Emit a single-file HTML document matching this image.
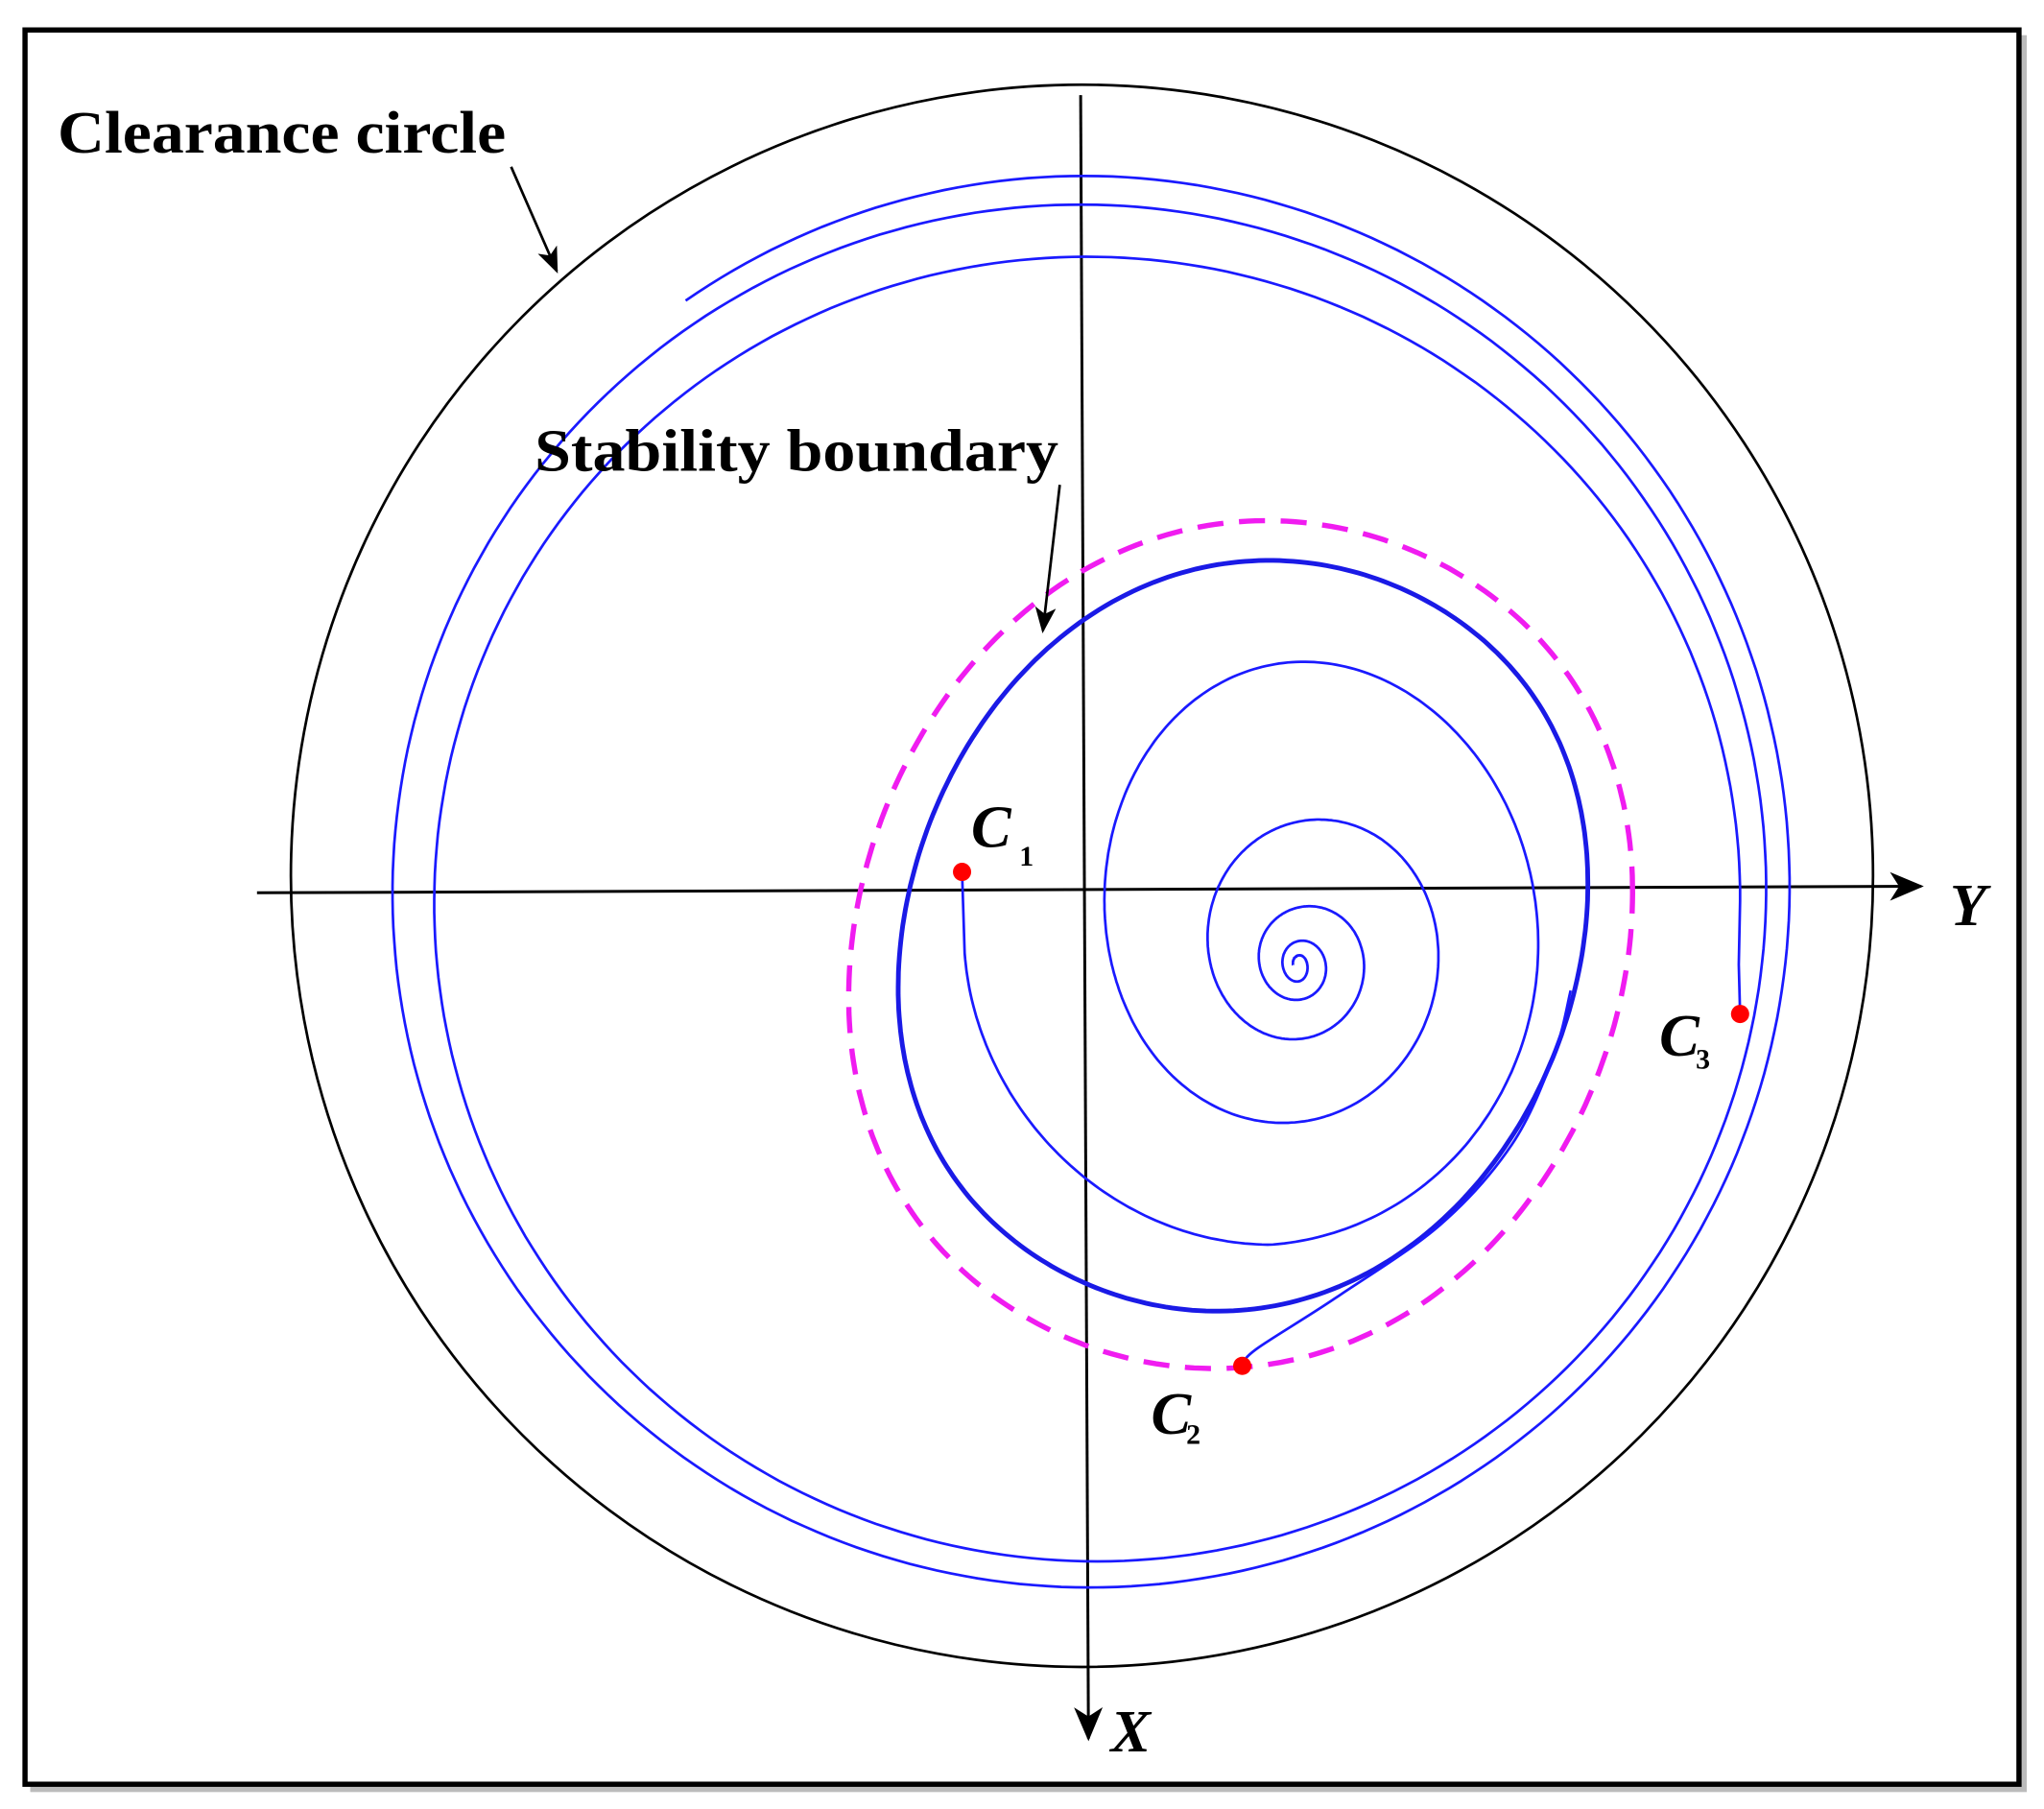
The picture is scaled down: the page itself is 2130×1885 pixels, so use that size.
<!DOCTYPE html>
<html><head><meta charset="utf-8"><style>
html,body{margin:0;padding:0;background:#fff;}
svg{display:block;}
text{font-family:"Liberation Serif",serif;font-weight:bold;fill:#000;}
</style></head><body>
<svg id="s" width="2130" height="1885" viewBox="0 0 1568 1388" xmlns="http://www.w3.org/2000/svg">
<defs>
<marker id="ax" markerWidth="26" markerHeight="22" refX="24" refY="11" orient="auto" markerUnits="userSpaceOnUse">
<path d="M0,0 L26,11 L0,22 L7,11 Z" fill="#000"/></marker>
<marker id="as" markerWidth="20" markerHeight="20" refX="18" refY="10" orient="auto" markerUnits="userSpaceOnUse">
<path d="M0,2 L20,10 L0,18 L5,10 Z" fill="#000"/></marker>
</defs>
<rect x="23" y="27" width="1532" height="1348" fill="#bbb"/>
<rect x="19" y="23" width="1530" height="1346" fill="#fff" stroke="#000" stroke-width="4"/>
<circle cx="830" cy="672" r="607" fill="none" stroke="#000" stroke-width="2"/>
<line x1="197" y1="685" x2="1474" y2="680" stroke="#000" stroke-width="2.2" marker-end="url(#ax)"/>
<line x1="829" y1="73" x2="835" y2="1334" stroke="#000" stroke-width="2.2" marker-end="url(#ax)"/>
<g id="curves"></g>
<line x1="392" y1="128" x2="427" y2="208" stroke="#000" stroke-width="2" marker-end="url(#as)"/>
<line x1="813" y1="372" x2="800" y2="484" stroke="#000" stroke-width="2" marker-end="url(#as)"/>
<circle cx="738" cy="669" r="7" fill="#f00"/>
<circle cx="953" cy="1048" r="7" fill="#f00"/>
<circle cx="1335" cy="778" r="7" fill="#f00"/>
<text x="44" y="117" font-size="46" textLength="344" lengthAdjust="spacingAndGlyphs">Clearance circle</text>
<text x="410" y="361" font-size="46" textLength="402" lengthAdjust="spacingAndGlyphs">Stability boundary</text>
<text x="745" y="650" font-size="46" font-style="italic">C</text><text x="782" y="664" font-size="22">1</text>
<text x="883" y="1100" font-size="46" font-style="italic">C</text><text x="910" y="1108" font-size="22">2</text>
<text x="1273" y="810" font-size="46" font-style="italic">C</text><text x="1301" y="820" font-size="22">3</text>
<text x="1496" y="710" font-size="46" font-style="italic">Y</text>
<text x="852" y="1344" font-size="46" font-style="italic">X</text>
</svg>
<script>
function cr(p,closed){
  var n=p.length,d="M"+p[0][0]+","+p[0][1];
  var g=function(i){if(closed)return p[(i+n)%n];return p[Math.max(0,Math.min(n-1,i))];};
  var m=closed?n:n-1;
  for(var i=0;i<m;i++){
    var p0=g(i-1),p1=g(i),p2=g(i+1),p3=g(i+2);
    var c1=[p1[0]+(p2[0]-p0[0])/6,p1[1]+(p2[1]-p0[1])/6];
    var c2=[p2[0]-(p3[0]-p1[0])/6,p2[1]-(p3[1]-p1[1])/6];
    d+=" C"+c1[0].toFixed(1)+","+c1[1].toFixed(1)+" "+c2[0].toFixed(1)+","+c2[1].toFixed(1)+" "+p2[0]+","+p2[1];
  }
  return d+(closed?"Z":"");
}
function herm(K,key,t){
  var n=K.length;
  if(t<=K[0].t)return K[0][key];
  if(t>=K[n-1].t)return K[n-1][key];
  var i=0;while(i<n-2&&t>K[i+1].t)i++;
  var h=K[i+1].t-K[i].t,f=(t-K[i].t)/h;
  var v0=K[i][key],v1=K[i+1][key];
  var m0=(i>0)?(K[i+1][key]-K[i-1][key])/2:(v1-v0);
  var m1=(i+2<n)?(K[i+2][key]-K[i][key])/2:(v1-v0);
  var f2=f*f,f3=f2*f;
  return (2*f3-3*f2+1)*v0+(f3-2*f2+f)*m0+(-2*f3+3*f2)*v1+(f3-f2)*m1;
}
function mk(E,t0,fn,sgn){
  var K=[];
  for(var k=0;k<E.length;k++){
    var tt=t0+k*Math.PI, v=Math.round(fn(tt));
    var h1=k>0?Math.abs(E[k]-E[k-1])/2:null, h2=k<E.length-1?Math.abs(E[k+1]-E[k])/2:null;
    var a=(h1!==null&&h2!==null)?(h1+h2)/2:(h1!==null?h1:h2);
    K.push({t:tt,a:a,c:E[k]-sgn*v*a});
  }
  return K;
}
function spiral2(Ex,Ey,tx0,ty0,t1,t2,pre){
  var KX=mk(Ex,tx0,Math.cos,1), KY=mk(Ey,ty0,Math.sin,-1);
  var pts=pre?pre.slice():[];
  for(var t=t1;t<=t2+1e-9;t+=0.02){
    var x=herm(KX,'c',t)+herm(KX,'a',t)*Math.cos(t);
    var y=herm(KY,'c',t)-herm(KY,'a',t)*Math.sin(t);
    pts.push([x.toFixed(1),y.toFixed(1)]);
  }
  return "M"+pts.map(function(p){return p[0]+","+p[1];}).join(" L");
}
function oval(cx,a,p,cy,b,q){
  var pts=[];
  for(var t=0;t<2*Math.PI;t+=0.02){
    var s=Math.sin(t),c=Math.cos(t);
    pts.push((cx+a*c+p*s*s*s).toFixed(1)+","+(cy-b*s-q*c*c*c).toFixed(1));
  }
  return "M"+pts.join(" L")+"Z";
}
var P=Math.PI;
var outerD=spiral2([1335,333,1355,301,1373,290],[1180,197,1198,157,1218,135,1235],0,-P/2,0,4*P+2.18,[[1335,778],[1334,740]]);
var c1D=spiral2([740,1180,848,1103,927,1046,966,1017,984,1003,992],[955,508,861,630,797,696,767,722,753,733,746],P,1.5*P,P,11*P,[[738,669],[739,700]]);
var thickD=oval(953.6,264.6,20,718,288,40);
var pinkD=oval(951.75,300.75,20,724.75,325.25,40);
var tail=[[952.8,1048.2],[963.7,1035.2],[1024.3,996.1],[1105,939.7],[1160,878],[1192,810],[1205,760]];
var h="";
h+='<path d="'+outerD+'" fill="none" stroke="#1a1aff" stroke-width="2"/>';
h+='<path d="'+c1D+'" fill="none" stroke="#1a1aff" stroke-width="2"/>';
h+='<path d="'+pinkD+'" fill="none" stroke="#f01cf0" stroke-width="4" stroke-dasharray="20 12"/>';
h+='<path d="'+thickD+'" fill="none" stroke="#1a1ae6" stroke-width="3.6"/>';
h+='<path d="'+cr(tail,false)+'" fill="none" stroke="#1a1aff" stroke-width="2"/>';
document.getElementById("curves").innerHTML=h;
</script>
</body></html>
